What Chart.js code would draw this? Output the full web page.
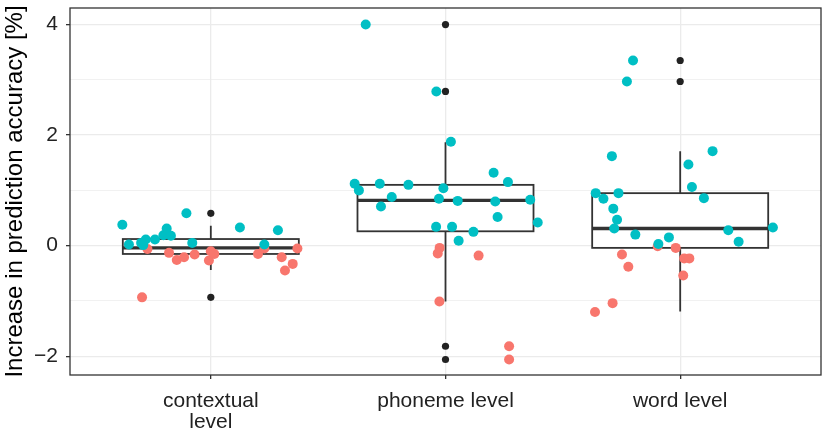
<!DOCTYPE html>
<html>
<head>
<meta charset="utf-8">
<script src="https://cdn.jsdelivr.net/npm/chart.js@4"></script>
<style>
html, body { margin: 0; padding: 0; background: #fff; }
</style>
</head>
<body>
<canvas id="accuracy-chart" width="826" height="433"></canvas>
<script>
// categories + box stats
const categoryLabels = [["contextual", "level"], ["phoneme level"], ["word level"]]
const boxLower = [-0.15, 0.26, -0.04]
const boxMedian = [-0.04, 0.82, 0.31]
const boxUpper = [0.12, 1.10, 0.95]
const whiskerLow = [-0.44, -1.01, -1.19]
const whiskerHigh = [0.36, 1.87, 1.71]
const outliers = [[0.585, -0.935], [4.0, 2.79, -1.82, -2.06], [3.35, 2.97]]

// jittered participants, cyan = gain, salmon = loss
const contextualCyanJitter = [-0.377, -0.349, -0.297, -0.277, -0.288, -0.238, -0.188, -0.202, -0.170, -0.104, -0.079, 0.124, 0.228, 0.286]
const contextualCyanValues = [0.38, 0.02, 0.05, 0.11, 0.01, 0.11, 0.31, 0.19, 0.18, 0.585, 0.05, 0.33, 0.02, 0.28]
const contextualSalmonJitter = [-0.293, -0.270, -0.178, -0.145, -0.114, -0.069, -0.008, 0, 0.015, 0.201, 0.228, 0.302, 0.316, 0.349, 0.369]
const contextualSalmonValues = [-0.935, -0.06, -0.13, -0.26, -0.21, -0.16, -0.27, -0.10, -0.15, -0.15, -0.05, -0.21, -0.45, -0.33, -0.05]

const phonemeCyanJitter = [-0.340, -0.039, 0.023, -0.387, -0.369, -0.280, -0.158, -0.229, -0.275, -0.009, -0.028, 0.052, 0.205, 0.266, 0.212, 0.361, 0.222, 0.393, -0.040, 0.028, 0.119, 0.056]
const phonemeCyanValues = [4.0, 2.79, 1.88, 1.12, 1.0, 1.12, 1.10, 0.88, 0.71, 1.04, 0.85, 0.81, 1.32, 1.15, 0.80, 0.83, 0.52, 0.42, 0.34, 0.34, 0.25, 0.09]
const phonemeSalmonJitter = [-0.025, -0.033, 0.141, -0.026, 0.271, 0.271]
const phonemeSalmonValues = [-0.04, -0.14, -0.18, -1.01, -1.82, -2.06]

const wordCyanJitter = [-0.201, -0.227, -0.291, 0.138, 0.035, 0.050, 0.101, -0.360, -0.327, -0.263, -0.285, -0.269, -0.281, -0.191, -0.048, -0.093, 0.205, 0.249, 0.395]
const wordCyanValues = [3.35, 2.97, 1.62, 1.71, 1.47, 1.06, 0.86, 0.95, 0.85, 0.95, 0.67, 0.47, 0.31, 0.20, 0.15, 0.03, 0.28, 0.07, 0.33]
const wordSalmonJitter = [-0.096, -0.019, -0.248, -0.221, 0.017, 0.039, 0.013, -0.288, -0.363]
const wordSalmonValues = [-0.01, -0.04, -0.16, -0.38, -0.23, -0.23, -0.54, -1.04, -1.20]

const yTicks = [-2, -1, 0, 1, 2, 3, 4]

const FONT = "'Liberation Sans', Arial, Helvetica, sans-serif"
const LINE = "#333333"


function toPoints(pos, jitter, values) {
    return values.map((v, i) => ({ x: pos + jitter[i], y: v }))
}

const cyanPoints = [
    ...toPoints(1, contextualCyanJitter, contextualCyanValues),
    ...toPoints(2, phonemeCyanJitter, phonemeCyanValues),
    ...toPoints(3, wordCyanJitter, wordCyanValues),
]
const salmonPoints = [
    ...toPoints(1, contextualSalmonJitter, contextualSalmonValues),
    ...toPoints(2, phonemeSalmonJitter, phonemeSalmonValues),
    ...toPoints(3, wordSalmonJitter, wordSalmonValues),
]
const outlierPoints = []
outliers.forEach((list, i) => list.forEach(v => outlierPoints.push({ x: i + 1, y: v })))


// boxes go under the points, border on top of everything
const boxPlugin = {
    id: "boxes",
    beforeDatasetsDraw(chart) {
        const { ctx, scales: { x, y } } = chart
        const half = 0.375
        ctx.save()
        ctx.strokeStyle = LINE
        for (let i = 0; i < boxMedian.length; i++) {
            const pos = i + 1
            const xl = x.getPixelForValue(pos - half)
            const xr = x.getPixelForValue(pos + half)
            const xc = x.getPixelForValue(pos)
            const top = y.getPixelForValue(boxUpper[i])
            const bot = y.getPixelForValue(boxLower[i])

            ctx.lineWidth = 1.8
            ctx.beginPath()
            ctx.moveTo(xc, y.getPixelForValue(whiskerHigh[i]))
            ctx.lineTo(xc, top)
            ctx.moveTo(xc, bot)
            ctx.lineTo(xc, y.getPixelForValue(whiskerLow[i]))
            ctx.stroke()

            ctx.fillStyle = "#ffffff"
            ctx.fillRect(xl, top, xr - xl, bot - top)
            ctx.strokeRect(xl, top, xr - xl, bot - top)

            ctx.lineWidth = 3.4
            const ym = y.getPixelForValue(boxMedian[i])
            ctx.beginPath()
            ctx.moveTo(xl, ym)
            ctx.lineTo(xr, ym)
            ctx.stroke()
        }
        ctx.restore()
    },
    afterDraw(chart) {
        const { ctx, chartArea: a } = chart
        ctx.save()
        ctx.strokeStyle = LINE
        ctx.lineWidth = 1.3
        ctx.strokeRect(a.left, a.top, a.right - a.left, a.bottom - a.top)
        ctx.restore()
    }
}


const config = {
    type: "scatter",
    data: {
        datasets: [
            {
                label: "outliers",
                data: outlierPoints,
                backgroundColor: "#222222",
                borderWidth: 0,
                pointRadius: 3.6,
            },
            {
                label: "gain",
                data: cyanPoints,
                backgroundColor: "#00BFC4",
                borderWidth: 0,
                pointRadius: 5,
            },
            {
                label: "loss",
                data: salmonPoints,
                backgroundColor: "#F8766D",
                borderWidth: 0,
                pointRadius: 5,
            },
        ]
    },
    options: {
        responsive: false,
        animation: false,
        layout: { padding: { left: 0, right: 5, top: 8, bottom: 0 } },
        plugins: { legend: { display: false }, tooltip: { enabled: false } },
        scales: {
            x: {
                type: "linear",
                min: 0.4,
                max: 3.6,
                afterBuildTicks: s => { s.ticks = [1, 2, 3].map(v => ({ value: v })) },
                afterFit: s => { s.height = 58; s.paddingLeft = 0; s.paddingRight = 0 },
                border: { display: false },
                grid: { color: "#ebebeb", lineWidth: 1.3, tickColor: LINE, tickLength: 4 },
                ticks: {
                    autoSkip: false,
                    maxRotation: 0,
                    padding: 12,
                    color: "#222",
                    font: { family: FONT, size: 21, lineHeight: 1.0 },
                    callback: v => categoryLabels[v - 1],
                },
            },
            y: {
                min: -2.34,
                max: 4.3,
                afterBuildTicks: s => { s.ticks = yTicks.map(v => ({ value: v })) },
                afterFit: s => { s.width = 70; s.paddingTop = 0; s.paddingBottom = 0 },
                border: { display: false },
                grid: {
                    color: "#ebebeb",
                    lineWidth: c => (c.tick && c.tick.value % 2 === 0) ? 1.3 : 0.7,
                    tickColor: c => (c.tick && c.tick.value % 2 === 0) ? LINE : "rgba(0,0,0,0)",
                    tickLength: 4,
                },
                ticks: {
                    padding: 8,
                    color: "#222",
                    font: { family: FONT, size: 21 },
                    callback: v => v % 2 === 0 ? (v < 0 ? "\u2212" + Math.abs(v) : String(v)) : "",
                },
                title: {
                    display: true,
                    text: "Increase in prediction accuracy [%]",
                    color: "#000",
                    font: { family: FONT, size: 24 },
                    padding: { top: 1, bottom: 0 },
                },
            },
        },
    },
    plugins: [boxPlugin],
}

new Chart(document.getElementById("accuracy-chart").getContext("2d"), config)
</script>
</body>
</html>
